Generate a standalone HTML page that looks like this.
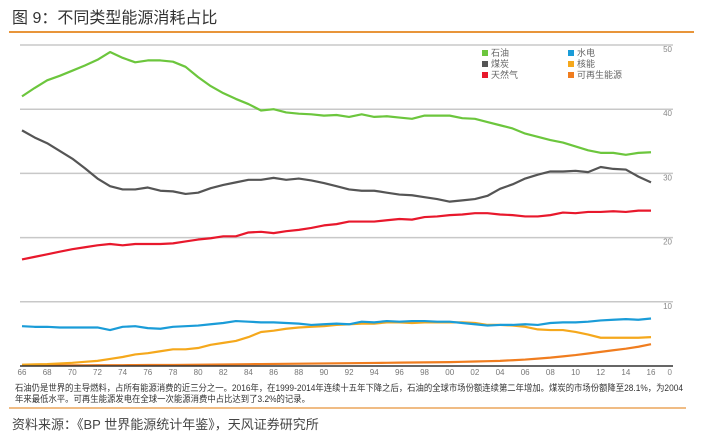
<!DOCTYPE html>
<html><head><meta charset="utf-8"><style>
body{margin:0;width:725px;height:444px;background:#fff;overflow:hidden;font-family:"Liberation Sans","Noto Sans CJK SC",sans-serif;}
svg{position:absolute;left:0;top:0}
</style></head><body>
<svg width="725" height="444">
<text x="12" y="23" font-size="16" fill="#333" font-family="Liberation Sans,Noto Sans CJK SC,sans-serif">图 9：不同类型能源消耗占比</text>
<line x1="9" y1="32" x2="694" y2="32" stroke="#e8953a" stroke-width="2"/>
<g id="grid"></g><g id="series"></g><g id="xlab"></g>
<g id="legend" font-size="9" fill="#666" font-family="Liberation Sans,Noto Sans CJK SC,sans-serif"></g>
<text x="15" y="391" font-size="9" fill="#333" textLength="668" lengthAdjust="spacingAndGlyphs" font-family="Liberation Sans,Noto Sans CJK SC,sans-serif">石油仍是世界的主导燃料，占所有能源消费的近三分之一。2016年，在1999-2014年连续十五年下降之后，石油的全球市场份额连续第二年增加。煤炭的市场份额降至28.1%，为2004</text>
<text x="15" y="402" font-size="9" fill="#333" textLength="295" lengthAdjust="spacingAndGlyphs" font-family="Liberation Sans,Noto Sans CJK SC,sans-serif">年来最低水平。可再生能源发电在全球一次能源消费中占比达到了3.2%的记录。</text>
<line x1="9" y1="408" x2="686" y2="408" stroke="#e8953a" stroke-width="1.2"/>
<text x="12" y="429" font-size="13" fill="#444" font-family="Liberation Sans,Noto Sans CJK SC,sans-serif">资料来源：《BP 世界能源统计年鉴》，天风证券研究所</text>
</svg>
<script>
const years=[];for(let y=1966;y<=2016;y++)years.push(y);
const oil=[42,43.3,44.5,45.2,46,46.8,47.7,48.9,48,47.3,47.6,47.6,47.4,46.6,45,43.6,42.5,41.6,40.8,39.8,40,39.5,39.3,39.2,39,39.1,38.8,39.2,38.8,38.9,38.7,38.5,39,39,39,38.6,38.5,38,37.5,37,36.2,35.7,35.2,34.8,34.2,33.6,33.2,33.2,32.9,33.2,33.3];
const coal=[36.7,35.6,34.7,33.5,32.3,30.8,29.2,28,27.5,27.5,27.8,27.3,27.2,26.8,27,27.7,28.2,28.6,29,29,29.3,29,29.2,28.9,28.5,28,27.5,27.3,27.3,27,26.7,26.6,26.3,26,25.6,25.8,26,26.5,27.6,28.3,29.2,29.8,30.3,30.3,30.4,30.2,31,30.7,30.6,29.5,28.6];
const gas=[16.6,17,17.4,17.8,18.2,18.5,18.8,19,18.8,19,19,19,19.1,19.4,19.7,19.9,20.2,20.2,20.8,20.9,20.7,21,21.2,21.5,21.9,22.1,22.5,22.5,22.5,22.7,22.9,22.8,23.2,23.3,23.5,23.6,23.8,23.8,23.6,23.5,23.3,23.3,23.5,23.9,23.8,24,24,24.1,24,24.2,24.2];
const hydro=[6.2,6.1,6.1,6,6,6,6,5.6,6.1,6.2,5.9,5.8,6.1,6.2,6.3,6.5,6.7,7,6.9,6.8,6.8,6.7,6.6,6.4,6.5,6.6,6.5,6.9,6.8,7,6.9,7,7,6.9,6.9,6.7,6.5,6.3,6.4,6.4,6.5,6.4,6.7,6.8,6.8,6.9,7.1,7.2,7.3,7.2,7.4];
const nuclear=[0.2,0.25,0.3,0.4,0.5,0.65,0.8,1.1,1.4,1.8,2,2.3,2.6,2.6,2.8,3.3,3.6,3.9,4.5,5.3,5.5,5.8,6,6.1,6.2,6.4,6.5,6.6,6.6,6.8,6.8,6.7,6.8,6.8,6.8,6.8,6.7,6.4,6.4,6.3,6.1,5.7,5.6,5.6,5.3,4.9,4.4,4.4,4.4,4.4,4.5];
const renew=[0.1,0.1,0.1,0.1,0.1,0.1,0.12,0.12,0.13,0.14,0.15,0.15,0.16,0.18,0.2,0.22,0.24,0.26,0.28,0.3,0.32,0.34,0.36,0.38,0.4,0.42,0.44,0.46,0.48,0.5,0.52,0.54,0.56,0.58,0.6,0.65,0.7,0.75,0.8,0.9,1.0,1.15,1.3,1.5,1.7,1.95,2.2,2.45,2.7,3.0,3.4];
const yTicks=[0,10,20,30,40,50];
const xTicks=[66,68,70,72,74,76,78,80,82,84,86,88,90,92,94,96,98,0,2,4,6,8,10,12,14,16];
const NS="http://www.w3.org/2000/svg";
const X=y=>22+(y-1966)*(651-22)/50;
const Y=v=>366-v*6.42;
function mk(t,a,p){const e=document.createElementNS(NS,t);for(const k in a)e.setAttribute(k,a[k]);p.appendChild(e);return e;}
const grid=document.getElementById('grid');
yTicks.forEach(v=>{
 if(v>0){const l=mk('line',{x1:20,x2:673,y1:Y(v),y2:Y(v),stroke:'#c8c8c8','stroke-width':1.5},grid);
 
 }
 const t=mk('text',{x:672,y:Y(v)+(v==0?9:7),'font-size':8,fill:'#888','text-anchor':'end'},grid);t.textContent=v;
 
 
});
const xl=document.getElementById('xlab');
xTicks.forEach(v=>{const yr=v>=66?1900+v:2000+v;
 const t=mk('text',{x:X(yr),y:375,'font-size':8,fill:'#777','text-anchor':'middle'},xl);t.textContent=String(v).padStart(2,'0');
 
 });
const ser=document.getElementById('series');
const defs=[['renewables',renew,'#f07d1f'],['nuclear',nuclear,'#f5a81c'],['hydro',hydro,'#1a9cd8'],['gas',gas,'#e8182c'],['coal',coal,'#555555'],['oil',oil,'#6cc63d']];
defs.forEach(([n,d,c])=>{const p=mk('polyline',{points:d.map((v,i)=>X(years[i])+','+Y(v)).join(' '),fill:'none',stroke:c,'stroke-width':2.2,'stroke-linejoin':'round'},ser);
 
 });
const ax=mk('line',{x1:20,x2:673,y1:366,y2:366,stroke:'#333','stroke-width':1.5},ser);


const lg=document.getElementById('legend');
const items=[['石油','#6cc63d',482,56],['水电','#1a9cd8',568,56],['煤炭','#555555',482,67],['核能','#f5a81c',568,67],['天然气','#e8182c',482,78],['可再生能源','#f07d1f',568,78]];
items.forEach(([t,c,x,y])=>{const g=mk('g',{},lg);
 
 
 mk('rect',{x:x,y:y-6,width:6,height:6,fill:c},g);const tx=mk('text',{x:x+9,y:y},g);tx.textContent=t;});
</script>
</body></html>
